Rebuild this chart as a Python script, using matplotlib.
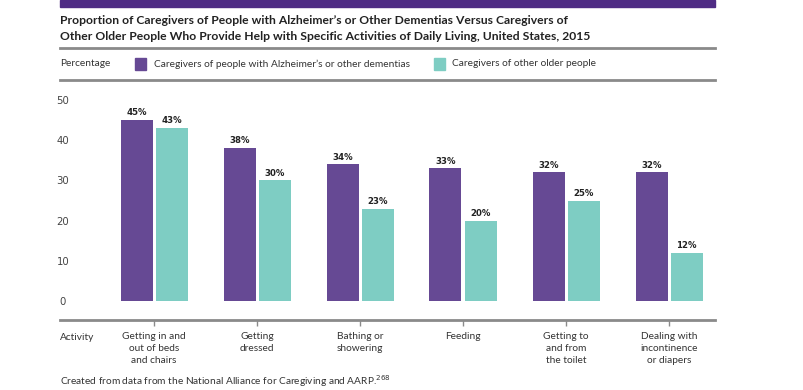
import matplotlib
matplotlib.use("Agg")
import matplotlib.pyplot as plt
from matplotlib.patches import Rectangle
from matplotlib.lines import Line2D
import numpy as np

categories = ["Getting in and\nout of beds\nand chairs", "Getting\ndressed", "Bathing or\nshowering",
              "Feeding", "Getting to\nand from\nthe toilet", "Dealing with\nincontinence\nor diapers"]
alz = [45, 38, 34, 33, 32, 32]
other = [43, 30, 23, 20, 25, 12]
yticks = [0, 10, 20, 30, 40, 50]
series_names = ["Caregivers of people with Alzheimer\u2019s or other dementias", "Caregivers of other older people"]

PURPLE = "#664994"
TEAL = "#7ECDC3"
BAND = "#4F2C84"
GRAY = "#8a8a8a"

W, H = 804, 390
fig = plt.figure(figsize=(W / 100, H / 100), dpi=100)

def fx(px):
    return px / W

def fy(py):
    return 1 - py / H

# top band
fig.patches.append(Rectangle((fx(60), fy(7)), fx(715) - fx(60), fy(0) - fy(7), transform=fig.transFigure,
                             color=BAND, zorder=0))
# title
title_font = dict(family="Lato", weight="bold", size=8.7, color="#222222")
fig.text(fx(60), fy(21), "Proportion of Caregivers of People with Alzheimer\u2019s or Other Dementias Versus Caregivers of",
         va="center", ha="left", **title_font)
fig.text(fx(60), fy(36), "Other Older People Who Provide Help with Specific Activities of Daily Living, United States, 2015",
         va="center", ha="left", **title_font)

for yy in [48, 80]:
    fig.add_artist(Line2D([fx(60), fx(715)], [fy(yy), fy(yy)], color=GRAY, lw=2, transform=fig.transFigure))

# legend
small = dict(family="Lato", size=7.3, color="#333333")
fig.text(fx(60), fy(64), "Percentage", va="center", ha="left", **small)
fig.patches.append(Rectangle((fx(135), fy(70)), fx(11), fy(0) - fy(12), transform=fig.transFigure, color=PURPLE))
fig.text(fx(154), fy(64), series_names[0], va="center", ha="left", **small)
fig.patches.append(Rectangle((fx(434), fy(70)), fx(11), fy(0) - fy(12), transform=fig.transFigure, color=TEAL))
fig.text(fx(452), fy(64), series_names[1], va="center", ha="left", **small)

# axes
ax_left, ax_right, ax_top, ax_bottom = 75, 715, 90, 320
ax = fig.add_axes([fx(ax_left), fy(ax_bottom), fx(ax_right - ax_left), fy(ax_top) - fy(ax_bottom)])
px_per_unit_y = 201 / 50
ax.set_ylim(-(ax_bottom - 301) / px_per_unit_y, 50 + (100 - ax_top) / px_per_unit_y)
px_per_cat = 103
ax.set_xlim(-(154 - ax_left) / px_per_cat, 5 + (ax_right - 669) / px_per_cat)

x = np.arange(len(categories))
bw = 32 / px_per_cat
off = 17.5 / px_per_cat
b1 = ax.bar(x - off, alz, width=bw, color=PURPLE)
b2 = ax.bar(x + off, other, width=bw, color=TEAL)
for bars, vals in [(b1, alz), (b2, other)]:
    for rect, v in zip(bars, vals):
        ax.annotate(f"{v}%", (rect.get_x() + rect.get_width() / 2, v), xytext=(0, 2), textcoords="offset points",
                    ha="center", va="bottom", fontsize=6.2, fontweight="bold", family="DejaVu Sans", color="#222222")

for s in ax.spines.values():
    s.set_visible(False)
ax.set_yticks(yticks)
ax.set_yticklabels([str(t) for t in yticks], ha="center", family="DejaVu Sans", fontsize=7.3, color="#444444")
ax.tick_params(axis="y", length=0, pad=12 * 0.72)
ax.set_xticks(x)
ax.set_xticklabels(categories, family="Lato", fontsize=7.3, color="#333333", linespacing=1.45)
ax.tick_params(axis="x", direction="out", length=4.5, width=1, color=GRAY, pad=4)

fig.add_artist(Line2D([fx(60), fx(715)], [fy(320), fy(320)], color=GRAY, lw=2, transform=fig.transFigure))
fig.text(fx(60), fy(337), "Activity", va="center", ha="left", **small)
fig.text(fx(60), fy(381), "Created from data from the National Alliance for Caregiving and AARP.$^{268}$",
         va="center", ha="left", **small)

fig.savefig("out.png", dpi=100, facecolor="white")
